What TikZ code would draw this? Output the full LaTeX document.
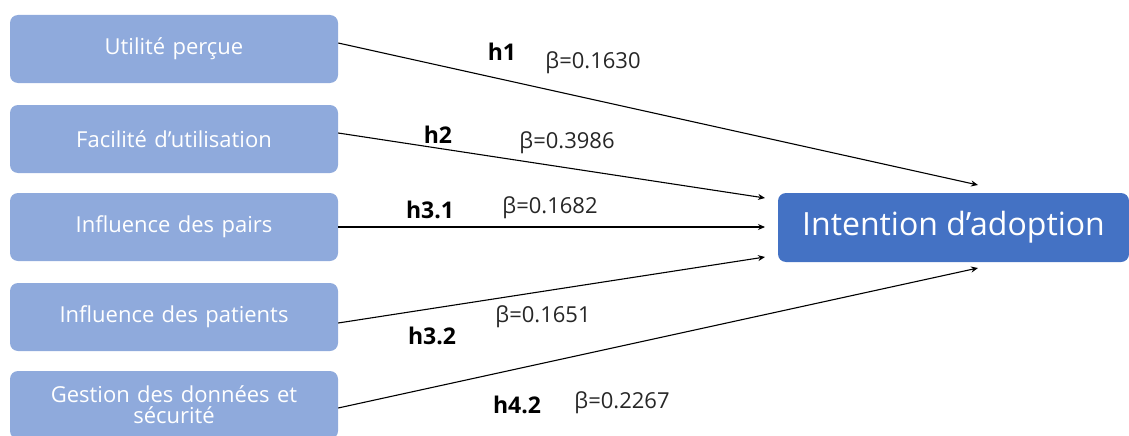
\documentclass[tikz,border=0pt]{standalone}
\usepackage{fontspec}
\setmainfont{Open Sans}
\usetikzlibrary{arrows.meta}
\definecolor{lightbox}{HTML}{8FAADC}
\definecolor{darkbox}{HTML}{4472C4}
\begin{document}
\begin{tikzpicture}[x=1pt,y=-1pt,
  srcbox/.style={fill=lightbox, rounded corners=8pt, minimum width=328pt, minimum height=68pt,
    text=white, font=\fontsize{22}{22}\selectfont, align=center, inner sep=0pt, text width=320pt},
  tgtbox/.style={fill=darkbox, rounded corners=8pt, minimum width=351pt, minimum height=69pt,
    text=white, font=\fontsize{32}{34}\selectfont, inner sep=0pt},
  hlab/.style={font=\fontsize{23}{23}\selectfont\bfseries, inner sep=0pt},
  blab/.style={font=\fontsize{22}{22}\selectfont, text=black!85, inner sep=0pt},
  conn/.style={line width=1.1pt, -{Stealth[length=7pt,width=6pt]}}]
\useasboundingbox (0,0) rectangle (1129,436);
\node[srcbox] (b1) at (174,49) {Utilité perçue};
\node[srcbox] (b2) at (174,139) {Facilité d'utilisation};
\node[srcbox] (b3) at (174,227) {Influence des pairs};
\node[srcbox] (b4) at (174,317) {Influence des patients};
\node[srcbox, font=\fontsize{22}{21}\selectfont] (b5) at (174,405) {Gestion des données et\\sécurité};
\node[tgtbox] (t) at (953.5,227.5) {Intention d'adoption};
\coordinate (e1) at (978,185);
\coordinate (e2) at (765,198);
\coordinate (e3) at (765,227);
\coordinate (e4) at (765,257);
\coordinate (e5) at (978,268);
\draw[conn] ([yshift=6pt]b1.east) -- (e1);
\draw[conn] ([yshift=6pt]b2.east) -- (e2);
\draw[conn] (b3.east) -- (e3);
\draw[conn] ([yshift=-6pt]b4.east) -- (e4);
\draw[conn] ([yshift=-3pt]b5.east) -- (e5);
\node[hlab] (h1) at (502,52) {h1};
\node[blab] (k1) at (593,63) {β=0.1630};
\node[hlab] (h2) at (438,135) {h2};
\node[blab] (k2) at (567,143) {β=0.3986};
\node[hlab] (h31) at (430,210) {h3.1};
\node[blab] (k31) at (550,208) {β=0.1682};
\node[hlab] (h32) at (432,336) {h3.2};
\node[blab] (k32) at (543,317) {β=0.1651};
\node[hlab] (h42) at (517,405) {h4.2};
\node[blab] (k42) at (622,403) {β=0.2267};
\end{tikzpicture}
\end{document}
